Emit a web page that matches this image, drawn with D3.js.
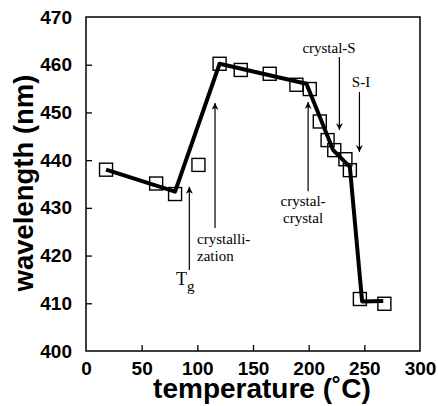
<!DOCTYPE html>
<html>
<head>
<meta charset="utf-8">
<script src="https://cdn.jsdelivr.net/npm/d3@7"></script>
<style>
  body { margin: 0; background: #fff; }
  svg { display: block; }
</style>
</head>
<body>
<div id="chart"></div>
<script>
    'use strict';

    // measured points (temperature in C, wavelength in nm)
    var temps = [18, 63, 80, 101, 120, 139, 165, 189, 201, 210, 217, 223, 233, 237, 246, 268];
    var waves = [438, 435.1, 432.9, 439, 460.2, 458.9, 458.1, 455.8, 454.9, 448.1, 444.2, 442.1, 440.2, 437.9, 410.9, 409.9];

    // hand drawn guide line
    var lineTemps = [18, 80, 120, 198, 222, 237, 248, 267];
    var lineWaves = [438, 433.4, 460.2, 456, 442.1, 438.6, 410.4, 410.5];

    var xTicks = [0, 50, 100, 150, 200, 250, 300];
    var yTicks = [400, 410, 420, 430, 440, 450, 460, 470];

    // arrows: x temperature, from / to wavelength (to = head)
    var arrowT = [92.8, 115.9, 199.5, 227.6, 245.6];
    var arrowFrom = [417, 425.8, 433.5, 461.6, 454.3];
    var arrowTo = [434.4, 452, 452.2, 446.3, 441.7];

    var labelLines = [['crystalli-', 'zation'], ['crystal-', 'crystal'], ['crystal-S'], ['S-I']];
    var labelT = [99.7, 195, 218.3, 247];
    var labelW = [422.4, 430.4, 462.5, 455.3];
    var labelAnchor = ['start', 'middle', 'middle', 'middle'];

    var width = 438;
    var height = 406;

    var svg = d3.select('#chart')
        .append('svg')
        .attr('width', width)
        .attr('height', height);

    var x = d3.scaleLinear().domain([0, 300]).range([86, 420]);
    var y = d3.scaleLinear().domain([400, 470]).range([351, 17]);

    function translate(a, b) {
        return 'translate(' + a + ',' + b + ')';
    }

    var defs = svg.append('defs');
    defs.append('marker')
        .attr('id', 'head')
        .attr('viewBox', '0 0 10 10')
        .attr('refX', 10)
        .attr('refY', 5)
        .attr('markerWidth', 10)
        .attr('markerHeight', 7)
        .attr('markerUnits', 'userSpaceOnUse')
        .attr('orient', 'auto')
        .append('path')
        .attr('d', 'M0,0 L10,5 L0,10 L3,5 Z')
        .attr('fill', '#000');

    // frame
    svg.append('rect')
        .attr('x', x(0))
        .attr('y', y(470))
        .attr('width', x(300) - x(0))
        .attr('height', y(400) - y(470))
        .attr('fill', 'none')
        .attr('stroke', '#000')
        .attr('stroke-width', 1.5);

    var xAxis = d3.axisBottom(x)
        .tickValues(xTicks)
        .tickSizeInner(-6)
        .tickSizeOuter(0)
        .tickPadding(12);

    var yAxis = d3.axisLeft(y)
        .tickValues(yTicks)
        .tickSizeInner(-6)
        .tickSizeOuter(0)
        .tickPadding(14);

    var gx = svg.append('g')
        .attr('transform', translate(0, y(400)))
        .call(xAxis);

    var gy = svg.append('g')
        .attr('transform', translate(x(0), 0))
        .call(yAxis);

    [gx, gy].forEach(function (g) {
        g.select('.domain').remove();
        g.attr('font-family', '"Liberation Sans", Arial, sans-serif')
            .attr('font-size', 19)
            .attr('font-weight', 'bold');
        g.selectAll('line').attr('stroke', '#000').attr('stroke-width', 1.3);
        g.selectAll('text').attr('fill', '#000');
    });
    gx.selectAll('line').filter(function (d) { return d === 0 || d === 300; }).remove();
    gy.selectAll('line').filter(function (d) { return d === 400 || d === 470; }).remove();
    gx.selectAll('text').attr('y', 24).attr('dy', null);

    // axis titles
    svg.append('text')
        .attr('x', 262)
        .attr('y', 398)
        .attr('text-anchor', 'middle')
        .style('font-family', '"Liberation Sans", Arial, sans-serif')
        .style('font-weight', 'bold')
        .style('font-size', '28px')
        .text('temperature (\u02DAC)');

    svg.append('text')
        .attr('transform', translate(33, 183) + ' rotate(-90)')
        .attr('text-anchor', 'middle')
        .style('font-family', '"Liberation Sans", Arial, sans-serif')
        .style('font-weight', 'bold')
        .style('font-size', '27.5px')
        .text('wavelength (nm)');

    // guide line
    var pts = lineTemps.map(function (t, i) { return [t, lineWaves[i]]; });
    svg.append('path')
        .datum(pts)
        .attr('d', d3.line().x(function (d) { return x(d[0]); }).y(function (d) { return y(d[1]); }))
        .attr('fill', 'none')
        .attr('stroke', '#000')
        .attr('stroke-width', 4)
        .attr('stroke-linejoin', 'round');

    // squares
    var sq = 13;
    svg.append('g')
        .selectAll('rect')
        .data(temps)
        .enter()
        .append('rect')
        .attr('x', function (t) { return x(t) - sq / 2; })
        .attr('y', function (t, i) { return y(waves[i]) - sq / 2; })
        .attr('width', sq)
        .attr('height', sq)
        .attr('fill', 'none')
        .attr('stroke', '#000')
        .attr('stroke-width', 1.4);

    // arrows
    svg.append('g')
        .selectAll('line')
        .data(arrowT)
        .enter()
        .append('line')
        .attr('x1', function (t) { return x(t); })
        .attr('x2', function (t) { return x(t); })
        .attr('y1', function (t, i) { return y(arrowFrom[i]); })
        .attr('y2', function (t, i) { return y(arrowTo[i]); })
        .attr('stroke', '#000')
        .attr('stroke-width', 1.2)
        .attr('marker-end', 'url(#head)');

    // annotations
    var serif = '"Liberation Serif", "DejaVu Serif", serif';
    var labels = svg.append('g')
        .style('font-family', serif)
        .style('font-size', '15px');

    labelLines.forEach(function (lines, i) {
        var txt = labels.append('text')
            .attr('x', x(labelT[i]))
            .attr('y', y(labelW[i]))
            .attr('text-anchor', labelAnchor[i]);
        lines.forEach(function (s, j) {
            txt.append('tspan')
                .attr('x', x(labelT[i]))
                .attr('dy', j === 0 ? 0 : 17)
                .text(s);
        });
    });

    var tg = labels.append('text')
        .attr('x', x(80.9))
        .attr('y', y(413.8))
        .style('font-size', '18px');
    tg.append('tspan').text('T');
    tg.append('tspan').attr('dy', 6).style('font-size', '15px').text('g');
</script>
</body>
</html>
